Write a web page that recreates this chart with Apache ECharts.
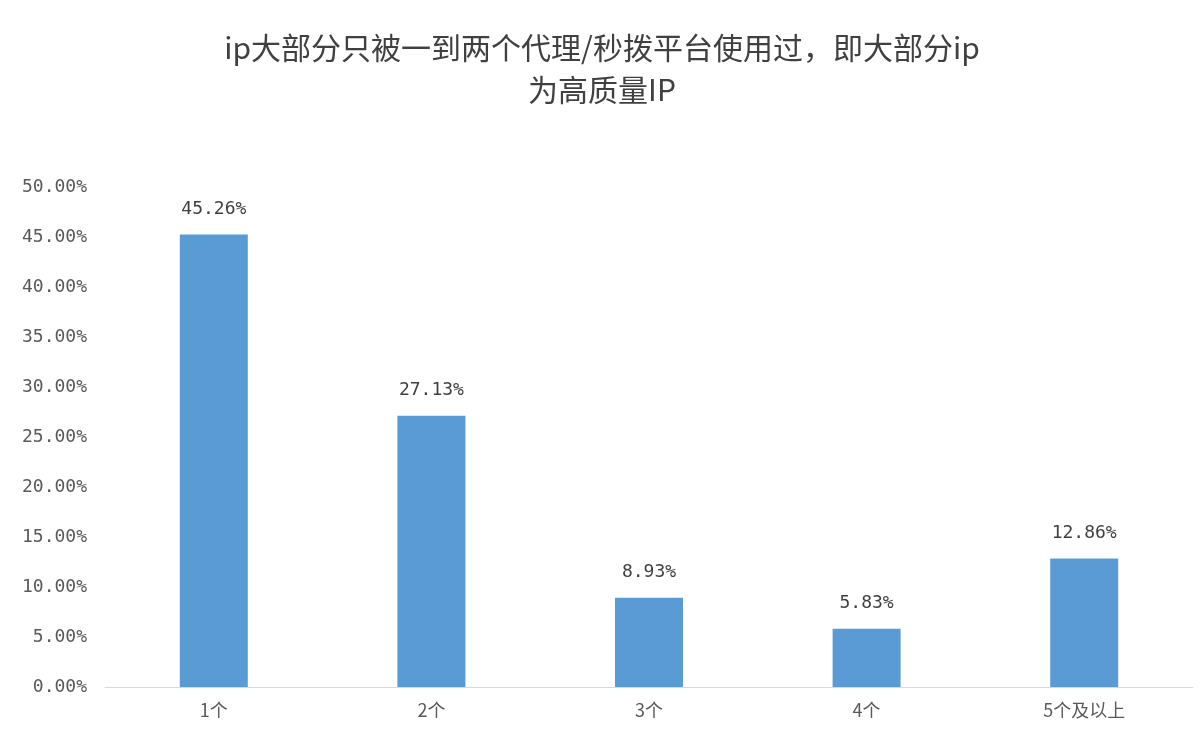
<!DOCTYPE html>
<html><head><meta charset="utf-8">
<script src="https://cdn.jsdelivr.net/npm/echarts@6/dist/echarts.min.js"></script>
<style>html,body{margin:0;background:#fff}#c{width:1204px;height:740px}</style>
</head><body><div id="c"></div>
<script>
const categories = ['1个','2个','3个','4个','5个及以上'];
const values = [45.26, 27.13, 8.93, 5.83, 12.86];
const chart = echarts.init(document.getElementById('c'));
chart.setOption({
  backgroundColor:'#fff',
  title:{text:'ip大部分只被一到两个代理/秒拨平台使用过，即大部分ip\n为高质量IP',left:'center',top:22,
    textStyle:{fontSize:30,fontWeight:'normal',color:'#404040',lineHeight:42,fontFamily:'Noto Sans CJK SC'}},
  grid:{left:105,right:11,top:187,bottom:53},
  xAxis:{type:'category',data:categories,axisTick:{show:false},
    axisLine:{lineStyle:{color:'#d9d9d9'}},
    axisLabel:{color:'#595959',fontSize:18,margin:14,fontFamily:'Noto Sans CJK SC'}},
  yAxis:{type:'value',min:0,max:50,interval:5,splitLine:{show:false},
    axisLabel:{color:'#595959',fontSize:18,margin:18,fontFamily:'DejaVu Sans Mono',formatter:v=>v.toFixed(2)+'%'}},
  series:[{type:'bar',data:values,barWidth:68,itemStyle:{color:'#5B9BD5'},
    label:{show:true,position:'top',distance:16,color:'#404040',fontSize:18,fontFamily:'DejaVu Sans Mono',formatter:p=>p.value.toFixed(2)+'%'}}]
});
</script></body></html>
